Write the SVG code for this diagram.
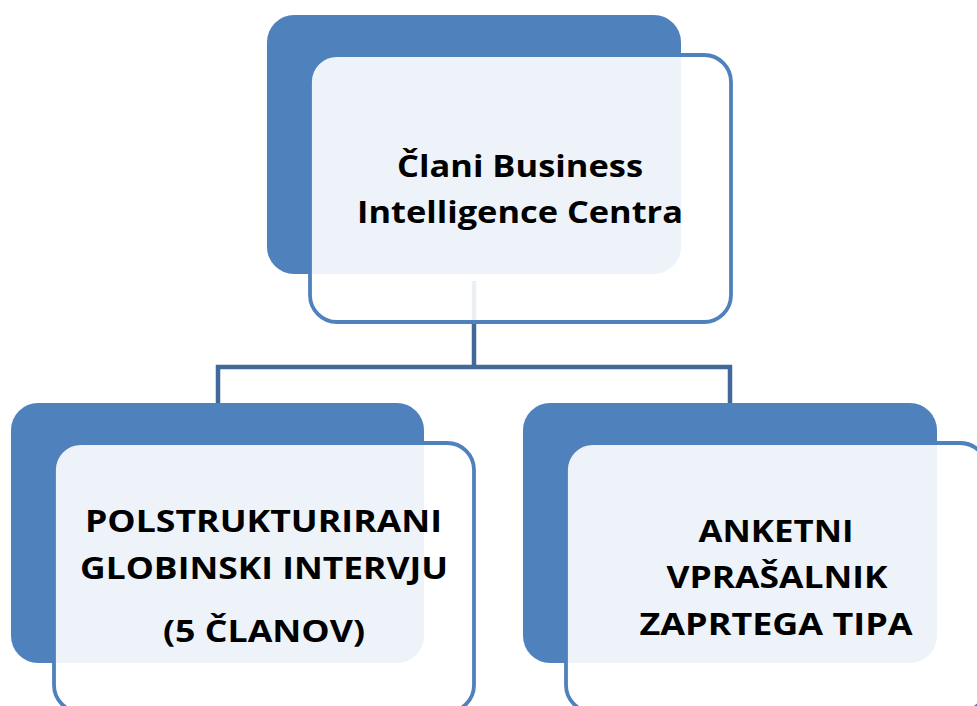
<svg xmlns="http://www.w3.org/2000/svg" width="977" height="706" viewBox="0 0 977 706">
<style>
.back{fill:#4F81BD;}
.front{fill:#FFFFFF;fill-opacity:0.9;stroke:#4F81BD;stroke-width:3.8;}
.conn{fill:none;stroke:#41699A;stroke-width:4.5;stroke-linejoin:miter;}
.lbl{font-family:"Open Sans","Liberation Sans",sans-serif;font-weight:bold;font-size:31px;fill:#000;text-anchor:middle;}
</style>
<rect width="977" height="706" fill="#FFFFFF"/>
<g id="connectors">
<path class="conn" d="M474,281 V367"/>
<path class="conn" d="M218,406 V367 H730 V406"/>
</g>
<g id="node-top">
<rect class="back" x="267" y="15" width="414" height="259" rx="27"/>
<rect class="front" x="310" y="55" width="421" height="267" rx="27"/>
<text class="lbl" x="520" y="177" textLength="246" lengthAdjust="spacingAndGlyphs">Člani Business</text>
<text class="lbl" x="520" y="223" textLength="326" lengthAdjust="spacingAndGlyphs">Intelligence Centra</text>
</g>
<g id="node-left">
<rect class="back" x="11" y="403" width="413" height="260" rx="27"/>
<rect class="front" x="54" y="443" width="420" height="269" rx="27"/>
<text class="lbl" x="263.5" y="532" textLength="357" lengthAdjust="spacingAndGlyphs">POLSTRUKTURIRANI</text>
<text class="lbl" x="264" y="579" textLength="368" lengthAdjust="spacingAndGlyphs">GLOBINSKI INTERVJU</text>
<text class="lbl" x="264" y="642" textLength="202" lengthAdjust="spacingAndGlyphs">(5 ČLANOV)</text>
</g>
<g id="node-right">
<rect class="back" x="523" y="403" width="414" height="260" rx="27"/>
<rect class="front" x="566" y="443" width="421" height="269" rx="27"/>
<text class="lbl" x="776" y="542" textLength="155" lengthAdjust="spacingAndGlyphs">ANKETNI</text>
<text class="lbl" x="777" y="588" textLength="221" lengthAdjust="spacingAndGlyphs">VPRAŠALNIK</text>
<text class="lbl" x="776" y="635" textLength="273" lengthAdjust="spacingAndGlyphs">ZAPRTEGA TIPA</text>
</g>
</svg>
